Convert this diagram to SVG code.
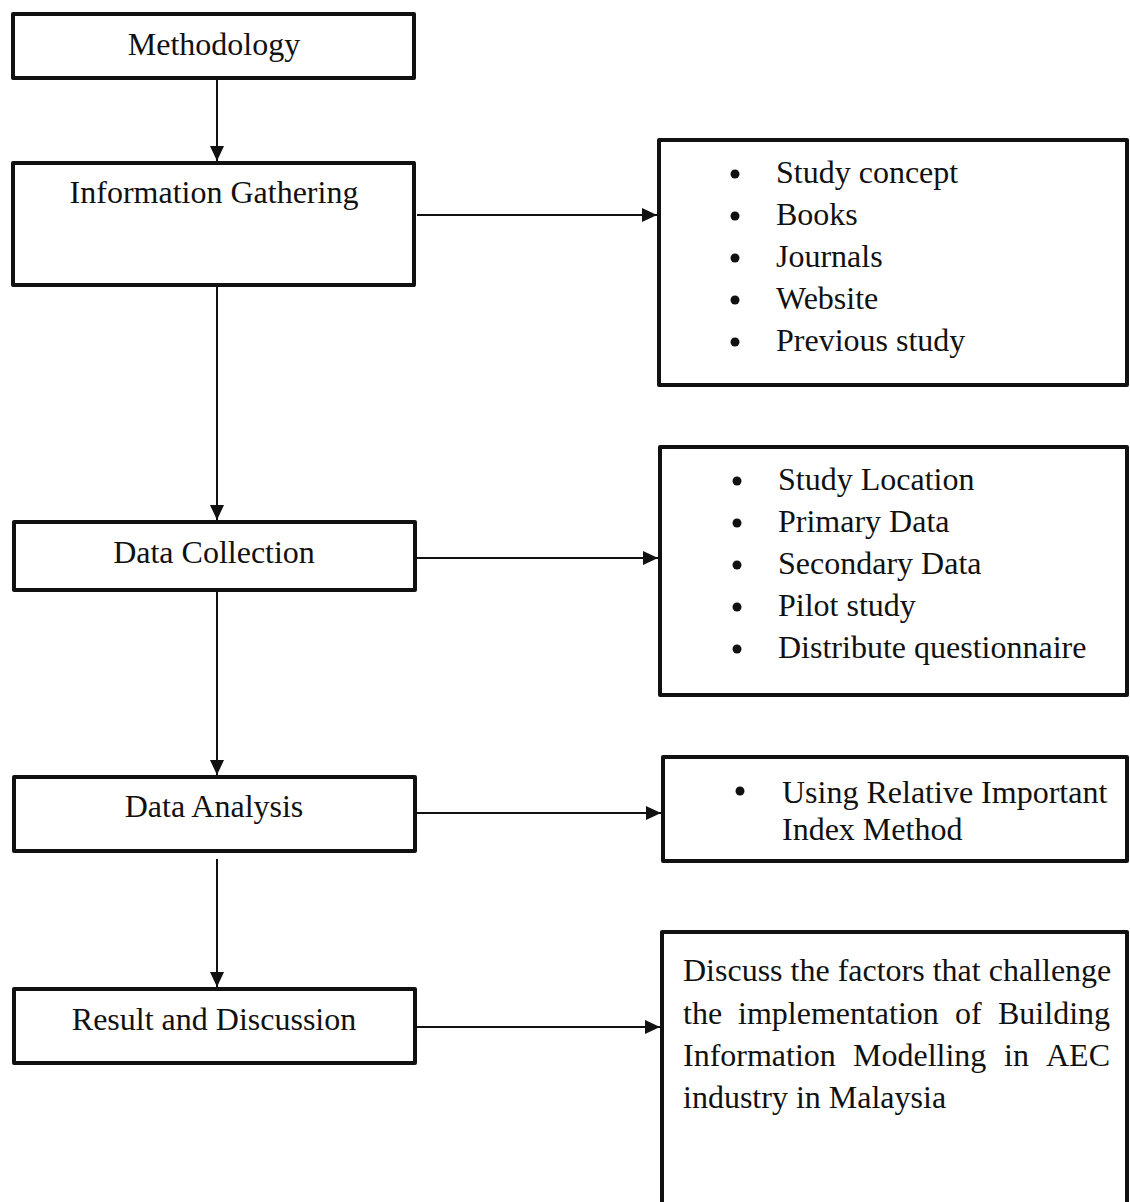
<svg xmlns="http://www.w3.org/2000/svg" width="1130" height="1202" viewBox="0 0 1130 1202">
<style>
.box{fill:#fff;stroke:#111;stroke-width:4;stroke-linejoin:round}
.t{font-family:"Liberation Serif","Times New Roman",serif;font-size:32px;fill:#111}
.c{text-anchor:middle}
.edge{stroke:#111;stroke-width:2;fill:none}
.b{fill:#111}
</style>
<defs>
<marker id="ah" markerUnits="userSpaceOnUse" markerWidth="16" markerHeight="14" refX="15" refY="7" orient="auto">
<path d="M0,0 L15,7 L0,14 Z" fill="#111"/>
</marker>
</defs>
<rect width="1130" height="1202" fill="#fff"/>
<g id="connectors">
<line class="edge" x1="217" y1="80" x2="217" y2="161" marker-end="url(#ah)"/>
<line class="edge" x1="217" y1="287" x2="217" y2="520" marker-end="url(#ah)"/>
<line class="edge" x1="217" y1="592" x2="217" y2="775" marker-end="url(#ah)"/>
<line class="edge" x1="217" y1="859" x2="217" y2="987" marker-end="url(#ah)"/>
<line class="edge" x1="417" y1="215" x2="657" y2="215" marker-end="url(#ah)"/>
<line class="edge" x1="417" y1="558" x2="658" y2="558" marker-end="url(#ah)"/>
<line class="edge" x1="417" y1="813" x2="661" y2="813" marker-end="url(#ah)"/>
<line class="edge" x1="417" y1="1027" x2="660" y2="1027" marker-end="url(#ah)"/>
</g>
<g id="methodology">
<rect class="box" x="13" y="14" width="401" height="64"/>
<text class="t c" x="214" y="55">Methodology</text>
</g>
<g id="information-gathering">
<rect class="box" x="13" y="163" width="401" height="122"/>
<text class="t c" x="214" y="203">Information Gathering</text>
</g>
<g id="data-collection">
<rect class="box" x="14" y="522" width="401" height="68"/>
<text class="t c" x="214" y="563">Data Collection</text>
</g>
<g id="data-analysis">
<rect class="box" x="14" y="777" width="401" height="74"/>
<text class="t c" x="214" y="817">Data Analysis</text>
</g>
<g id="result-discussion">
<rect class="box" x="14" y="989" width="401" height="74"/>
<text class="t c" x="214" y="1030">Result and Discussion</text>
</g>
<g id="info-sources">
<rect class="box" x="659" y="140" width="468" height="245"/>
<circle class="b" cx="735" cy="174" r="4.5"/>
<circle class="b" cx="735" cy="216" r="4.5"/>
<circle class="b" cx="735" cy="258" r="4.5"/>
<circle class="b" cx="735" cy="300" r="4.5"/>
<circle class="b" cx="735" cy="342" r="4.5"/>
<text class="t" x="776" y="183">Study concept</text>
<text class="t" x="776" y="225">Books</text>
<text class="t" x="776" y="267">Journals</text>
<text class="t" x="776" y="309">Website</text>
<text class="t" x="776" y="351">Previous study</text>
</g>
<g id="collection-items">
<rect class="box" x="660" y="447" width="467" height="248"/>
<circle class="b" cx="737" cy="481" r="4.5"/>
<circle class="b" cx="737" cy="523" r="4.5"/>
<circle class="b" cx="737" cy="565" r="4.5"/>
<circle class="b" cx="737" cy="607" r="4.5"/>
<circle class="b" cx="737" cy="649" r="4.5"/>
<text class="t" x="778" y="490">Study Location</text>
<text class="t" x="778" y="532">Primary Data</text>
<text class="t" x="778" y="574">Secondary Data</text>
<text class="t" x="778" y="616">Pilot study</text>
<text class="t" x="778" y="658">Distribute questionnaire</text>
</g>
<g id="analysis-method">
<rect class="box" x="663" y="757" width="464" height="104"/>
<circle class="b" cx="740" cy="791" r="4.5"/>
<text class="t" x="782" y="803">Using Relative Important</text>
<text class="t" x="782" y="840">Index Method</text>
</g>
<g id="discussion-scope">
<rect class="box" x="662" y="932" width="465" height="300"/>
<text class="t" y="981"><tspan x="683">Discuss the factors that challenge</tspan></text>
<text class="t" y="1024"><tspan x="683">the</tspan><tspan x="738">implementation</tspan><tspan x="955">of</tspan><tspan x="998">Building</tspan></text>
<text class="t" y="1066"><tspan x="683">Information</tspan><tspan x="853">Modelling</tspan><tspan x="1004">in</tspan><tspan x="1046">AEC</tspan></text>
<text class="t" y="1108"><tspan x="683">industry in Malaysia</tspan></text>
</g>
</svg>
